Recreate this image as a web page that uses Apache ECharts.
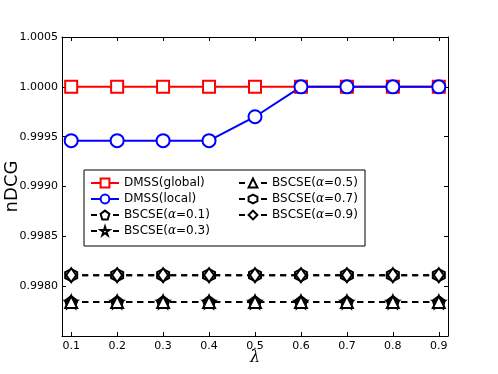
<!DOCTYPE html>
<html>
<head>
<meta charset="utf-8">
<script src="https://cdn.jsdelivr.net/npm/echarts@6/dist/echarts.min.js"></script>
<style>
  html, body { margin: 0; padding: 0; background: #fff; }
  #main { width: 498px; height: 374px; }
</style>
</head>
<body>
<div id="main"></div>
<script>
// x values (lambda)
const lambdas = [0.1, 0.2, 0.3, 0.4, 0.5, 0.6, 0.7, 0.8, 0.9];
const yTicks = [0.998, 0.9985, 0.999, 0.9995, 1.0, 1.0005];

// series values
const dmssGlobal = [1.0, 1.0, 1.0, 1.0, 1.0, 1.0, 1.0, 1.0, 1.0];
const dmssLocal = [0.99946, 0.99946, 0.99946, 0.99946, 0.99970, 1.0, 1.0, 1.0, 1.0];
const bscse01 = [0.99784, 0.99784, 0.99784, 0.99784, 0.99784, 0.99784, 0.99784, 0.99784, 0.99784];
const bscse03 = [0.99784, 0.99784, 0.99784, 0.99784, 0.99784, 0.99784, 0.99784, 0.99784, 0.99784];
const bscse05 = [0.99784, 0.99784, 0.99784, 0.99784, 0.99784, 0.99784, 0.99784, 0.99784, 0.99784];
const bscse07 = [0.99811, 0.99811, 0.99811, 0.99811, 0.99811, 0.99811, 0.99811, 0.99811, 0.99811];
const bscse09 = [0.99811, 0.99811, 0.99811, 0.99811, 0.99811, 0.99811, 0.99811, 0.99811, 0.99811];

const pentagon = 'path://M0,-1L0.951,-0.309L0.588,0.809L-0.588,0.809L-0.951,-0.309Z';
const star = 'path://M0,-1L0.225,-0.309L0.951,-0.309L0.363,0.118L0.588,0.809L0,0.382L-0.588,0.809L-0.363,0.118L-0.951,-0.309L-0.225,-0.309Z';
const hexagon = 'path://M0,-1L0.866,-0.5L0.866,0.5L0,1L-0.866,0.5L-0.866,-0.5Z';

const font = 'DejaVu Sans';
const pairs = vals => lambdas.map((x, i) => [x, vals[i]]);

function makeSeries(name, vals, color, symbol, size, dashed) {
	return {
		name: name,
		type: 'line',
		data: pairs(vals),
		symbol: symbol,
		symbolSize: size,
		showAllSymbol: true,
		lineStyle: {color: color, width: 2, type: dashed ? [6, 5] : 'solid'},
		itemStyle: {color: '#fff', borderColor: color, borderWidth: 2},
		emphasis: {disabled: true},
		animation: false
	};
}

const myCharts = echarts.init(document.querySelector('#main'));

const legendBase = {
	orient: 'vertical',
	itemWidth: 28,
	itemHeight: 11,
	itemGap: 4,
	selectedMode: false,
	textStyle: {
		fontFamily: font, fontSize: 12, color: '#000',
		rich: {i: {fontFamily: 'DejaVu Serif', fontStyle: 'italic', fontSize: 12, color: '#000'}}
	},
	formatter: name => name.replace('α', '{i|α}')
};

const option = {
	animation: false,
	grid: {left: 62, right: 50, top: 37, bottom: 38, outerBoundsMode: 'none', containLabel: false},
	graphic: [{
		type: 'rect', z: 3,
		shape: {x: 84, y: 170, width: 281, height: 76},
		style: {fill: '#fff', stroke: '#000', lineWidth: 1}
	}],
	legend: [
		Object.assign({}, legendBase, {
			left: 85, top: 172,
			data: ['DMSS(global)', 'DMSS(local)', 'BSCSE(α=0.1)', 'BSCSE(α=0.3)']
		}),
		Object.assign({}, legendBase, {
			left: 233, top: 172,
			data: ['BSCSE(α=0.5)', 'BSCSE(α=0.7)', 'BSCSE(α=0.9)']
		})
	],
	xAxis: [
		{
			type: 'value', min: 0.08, max: 0.92,
			name: 'λ', nameLocation: 'middle', nameGap: 14, nameMoveOverlap: false,
			nameTextStyle: {fontFamily: 'DejaVu Serif', fontStyle: 'italic', fontSize: 16, color: '#000'},
			axisLine: {lineStyle: {color: '#000', width: 1}},
			axisTick: {inside: true, length: 4, customValues: lambdas, lineStyle: {color: '#000'}},
			axisLabel: {customValues: lambdas, fontFamily: font, fontSize: 11, color: '#000', margin: 5,
				formatter: v => v.toFixed(1)},
			splitLine: {show: false}
		},
		{
			type: 'value', min: 0.08, max: 0.92, position: 'top',
			axisLine: {lineStyle: {color: '#000', width: 1}},
			axisTick: {inside: true, length: 4, customValues: lambdas, lineStyle: {color: '#000'}},
			axisLabel: {show: false},
			splitLine: {show: false}
		}
	],
	yAxis: [
		{
			type: 'value', min: 0.9975, max: 1.0005,
			name: 'nDCG', nameLocation: 'middle', nameGap: 41, nameMoveOverlap: false,
			nameTextStyle: {fontFamily: font, fontSize: 18, color: '#000'},
			axisLine: {show: true, lineStyle: {color: '#000', width: 1}},
			axisTick: {inside: true, length: 4, customValues: yTicks, lineStyle: {color: '#000'}},
			axisLabel: {customValues: yTicks, fontFamily: font, fontSize: 11, color: '#000', margin: 4,
				formatter: v => v.toFixed(4)},
			splitLine: {show: false}
		},
		{
			type: 'value', min: 0.9975, max: 1.0005, position: 'right',
			axisLine: {show: true, lineStyle: {color: '#000', width: 1}},
			axisTick: {inside: true, length: 4, customValues: yTicks, lineStyle: {color: '#000'}},
			axisLabel: {show: false},
			splitLine: {show: false}
		}
	],
	series: [
		makeSeries('DMSS(global)', dmssGlobal, '#ff0000', 'rect', 12, false),
		makeSeries('DMSS(local)', dmssLocal, '#0000ff', 'circle', 13, false),
		makeSeries('BSCSE(α=0.1)', bscse01, '#000', pentagon, 12, true),
		makeSeries('BSCSE(α=0.3)', bscse03, '#000', star, 12, true),
		makeSeries('BSCSE(α=0.5)', bscse05, '#000', 'triangle', 12, true),
		makeSeries('BSCSE(α=0.7)', bscse07, '#000', hexagon, 12, true),
		makeSeries('BSCSE(α=0.9)', bscse09, '#000', 'diamond', [10, 14], true)
	]
};

myCharts.setOption(option);
</script>
</body>
</html>
